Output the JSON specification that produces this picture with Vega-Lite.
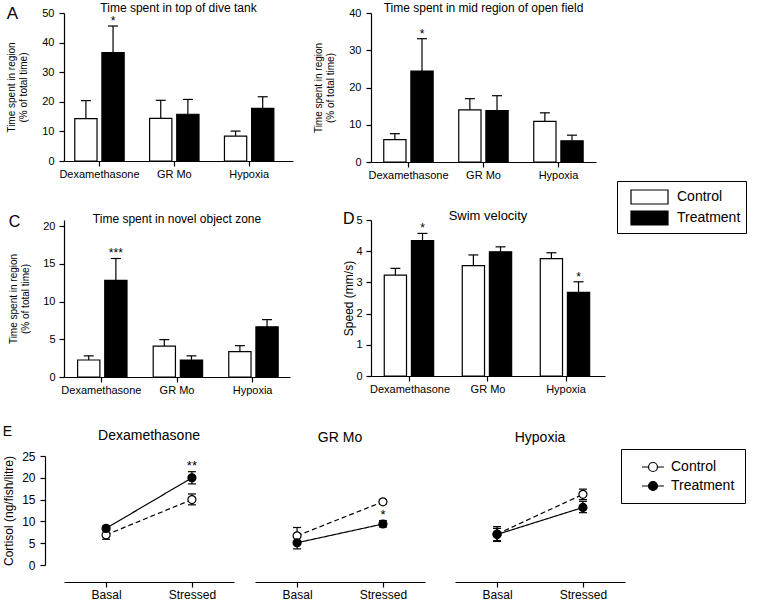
{
  "$schema": "https://vega.github.io/schema/vega-lite/v6.json",
  "padding": {"left": 2, "top": 2, "right": 0, "bottom": 0},
  "datasets": {
    "bars": [
      {"panel": "A", "cat": "Dexamethasone", "group": "Control", "value": 14.3, "hi": 20.4, "sig": ""},
      {"panel": "A", "cat": "Dexamethasone", "group": "Treatment", "value": 36.6, "hi": 45.6, "sig": "*"},
      {"panel": "A", "cat": "GR Mo", "group": "Control", "value": 14.4, "hi": 20.5, "sig": ""},
      {"panel": "A", "cat": "GR Mo", "group": "Treatment", "value": 15.8, "hi": 20.8, "sig": ""},
      {"panel": "A", "cat": "Hypoxia", "group": "Control", "value": 8.4, "hi": 10.1, "sig": ""},
      {"panel": "A", "cat": "Hypoxia", "group": "Treatment", "value": 17.8, "hi": 21.7, "sig": ""},
      {"panel": "B", "cat": "Dexamethasone", "group": "Control", "value": 6.0, "hi": 7.6, "sig": ""},
      {"panel": "B", "cat": "Dexamethasone", "group": "Treatment", "value": 24.4, "hi": 33.1, "sig": "*"},
      {"panel": "B", "cat": "GR Mo", "group": "Control", "value": 14.0, "hi": 17.0, "sig": ""},
      {"panel": "B", "cat": "GR Mo", "group": "Treatment", "value": 13.8, "hi": 17.8, "sig": ""},
      {"panel": "B", "cat": "Hypoxia", "group": "Control", "value": 10.9, "hi": 13.2, "sig": ""},
      {"panel": "B", "cat": "Hypoxia", "group": "Treatment", "value": 5.7, "hi": 7.2, "sig": ""},
      {"panel": "C", "cat": "Dexamethasone", "group": "Control", "value": 2.25, "hi": 2.8, "sig": ""},
      {"panel": "C", "cat": "Dexamethasone", "group": "Treatment", "value": 12.8, "hi": 15.7, "sig": "***"},
      {"panel": "C", "cat": "GR Mo", "group": "Control", "value": 4.1, "hi": 4.95, "sig": ""},
      {"panel": "C", "cat": "GR Mo", "group": "Treatment", "value": 2.25, "hi": 2.8, "sig": ""},
      {"panel": "C", "cat": "Hypoxia", "group": "Control", "value": 3.35, "hi": 4.15, "sig": ""},
      {"panel": "C", "cat": "Hypoxia", "group": "Treatment", "value": 6.65, "hi": 7.6, "sig": ""},
      {"panel": "D", "cat": "Dexamethasone", "group": "Control", "value": 3.23, "hi": 3.45, "sig": ""},
      {"panel": "D", "cat": "Dexamethasone", "group": "Treatment", "value": 4.34, "hi": 4.57, "sig": "*"},
      {"panel": "D", "cat": "GR Mo", "group": "Control", "value": 3.54, "hi": 3.88, "sig": ""},
      {"panel": "D", "cat": "GR Mo", "group": "Treatment", "value": 3.98, "hi": 4.14, "sig": ""},
      {"panel": "D", "cat": "Hypoxia", "group": "Control", "value": 3.76, "hi": 3.95, "sig": ""},
      {"panel": "D", "cat": "Hypoxia", "group": "Treatment", "value": 2.68, "hi": 3.02, "sig": "*"}
    ],
    "cortisol": [
      {"panel": "Dexamethasone", "cond": "Basal", "group": "Control", "mean": 6.9, "lo": 5.9, "hi": 7.9, "sig": ""},
      {"panel": "Dexamethasone", "cond": "Basal", "group": "Treatment", "mean": 8.4, "lo": 7.9, "hi": 8.9, "sig": ""},
      {"panel": "Dexamethasone", "cond": "Stressed", "group": "Control", "mean": 15.0, "lo": 13.8, "hi": 16.3, "sig": ""},
      {"panel": "Dexamethasone", "cond": "Stressed", "group": "Treatment", "mean": 20.0, "lo": 18.6, "hi": 21.4, "sig": "**"},
      {"panel": "GR Mo", "cond": "Basal", "group": "Control", "mean": 6.7, "lo": 4.9, "hi": 8.6, "sig": ""},
      {"panel": "GR Mo", "cond": "Basal", "group": "Treatment", "mean": 5.1, "lo": 3.7, "hi": 6.4, "sig": ""},
      {"panel": "GR Mo", "cond": "Stressed", "group": "Control", "mean": 14.5, "lo": 14.0, "hi": 15.0, "sig": ""},
      {"panel": "GR Mo", "cond": "Stressed", "group": "Treatment", "mean": 9.4, "lo": 8.7, "hi": 10.2, "sig": "*"},
      {"panel": "Hypoxia", "cond": "Basal", "group": "Control", "mean": 7.1, "lo": 5.4, "hi": 8.8, "sig": ""},
      {"panel": "Hypoxia", "cond": "Basal", "group": "Treatment", "mean": 7.0, "lo": 5.6, "hi": 8.4, "sig": ""},
      {"panel": "Hypoxia", "cond": "Stressed", "group": "Control", "mean": 16.2, "lo": 15.0, "hi": 17.4, "sig": ""},
      {"panel": "Hypoxia", "cond": "Stressed", "group": "Treatment", "mean": 13.2, "lo": 12.0, "hi": 14.6, "sig": ""}
    ]
  },
  "spacing": 29,
  "resolve": {"scale": {"fill": "independent"}, "legend": {"fill": "independent"}},
  "vconcat": [
    {
      "spacing": 0,
      "resolve": {"scale": {"fill": "independent"}, "legend": {"fill": "independent"}},
      "vconcat": [
        {
          "spacing": 20,
          "resolve": {"scale": {"fill": "independent"}, "legend": {"fill": "independent"}},
          "hconcat": [
            {
              "title": {"text": "A", "anchor": "start", "fontSize": 17, "offset": -20.8},
              "resolve": {"scale": {"fill": "independent"}, "legend": {"fill": "independent"}},
              "hconcat": [
                {
                  "width": 229, "height": 148,
                  "title": {"text": "Time spent in top of dive tank", "offset": -8},
                  "data": {"name": "bars"},
                  "transform": [{"filter": "datum.panel === 'A'"}],
                  "encoding": {
                    "x": {"field": "cat", "type": "nominal", "scale": {"paddingInner": 0.34, "paddingOuter": 0.2, "align": 0.36}, "axis": {"title": null, "labelAngle": 0}},
                    "xOffset": {"field": "group", "type": "nominal", "scale": {"paddingInner": 0.18, "paddingOuter": 0}},
                    "y": {"field": "value", "type": "quantitative", "scale": {"domain": [0, 50], "nice": false}, "axis": {"values": [0, 10, 20, 30, 40, 50], "tickCount": 20, "format": "d", "title": ["Time spent in region", "(% of total time)"], "titleFontSize": 10, "titlePadding": 13, "labelPadding": 5}}
                  },
                  "layer": [
                    {"mark": {"type": "bar", "stroke": "black", "strokeWidth": 1.2},
                     "encoding": {"fill": {"field": "group", "type": "nominal", "scale": {"domain": ["Control", "Treatment"], "range": ["white", "black"]}, "legend": null}}},
                    {"mark": {"type": "rule", "color": "black", "strokeWidth": 1.2}, "encoding": {"y2": {"field": "hi"}}},
                    {"mark": {"type": "tick", "color": "black", "thickness": 1.2, "size": 10, "opacity": 1}, "encoding": {"y": {"field": "hi", "type": "quantitative"}}},
                    {"mark": {"type": "text", "baseline": "alphabetic", "dy": -1, "fontSize": 12, "color": "black"}, "encoding": {"y": {"field": "hi", "type": "quantitative"}, "text": {"field": "sig"}}}
                  ]
                }
              ]
            },
            {
              "width": 225, "height": 149,
              "title": {"text": "Time spent in mid region of open field", "offset": -8},
              "data": {"name": "bars"},
              "transform": [{"filter": "datum.panel === 'B'"}],
              "encoding": {
                "x": {"field": "cat", "type": "nominal", "scale": {"paddingInner": 0.34, "paddingOuter": 0.17}, "axis": {"title": null, "labelAngle": 0}},
                "xOffset": {"field": "group", "type": "nominal", "scale": {"paddingInner": 0.18, "paddingOuter": 0}},
                "y": {"field": "value", "type": "quantitative", "scale": {"domain": [0, 40], "nice": false}, "axis": {"values": [0, 10, 20, 30, 40], "tickCount": 20, "format": "d", "title": ["Time spent in region", "(% of total time)"], "titleFontSize": 10, "titlePadding": 13, "labelPadding": 5}}
              },
              "layer": [
                {"mark": {"type": "bar", "stroke": "black", "strokeWidth": 1.2},
                 "encoding": {"fill": {"field": "group", "type": "nominal", "scale": {"domain": ["Control", "Treatment"], "range": ["white", "black"]}, "legend": null}}},
                {"mark": {"type": "rule", "color": "black", "strokeWidth": 1.2}, "encoding": {"y2": {"field": "hi"}}},
                {"mark": {"type": "tick", "color": "black", "thickness": 1.2, "size": 10, "opacity": 1}, "encoding": {"y": {"field": "hi", "type": "quantitative"}}},
                {"mark": {"type": "text", "baseline": "alphabetic", "dy": -1, "fontSize": 12, "color": "black"}, "encoding": {"y": {"field": "hi", "type": "quantitative"}, "text": {"field": "sig"}}}
              ]
            }
          ]
        },
        {
          "spacing": 52,
          "hconcat": [
            {
              "title": {"text": "C", "anchor": "start", "fontSize": 16, "offset": -17},
              "hconcat": [
                {
                  "width": 226, "height": 157,
                  "title": {"text": "Time spent in novel object zone", "offset": -6},
                  "data": {"name": "bars"},
                  "transform": [{"filter": "datum.panel === 'C'"}],
                  "encoding": {
                    "x": {"field": "cat", "type": "nominal", "scale": {"paddingInner": 0.37, "paddingOuter": 0.18}, "axis": {"title": null, "labelAngle": 0}},
                    "xOffset": {"field": "group", "type": "nominal", "scale": {"paddingInner": 0.32, "paddingOuter": 0}},
                    "y": {"field": "value", "type": "quantitative", "scale": {"domain": [0, 20.8], "nice": false}, "axis": {"values": [0, 5, 10, 15, 20], "tickCount": 20, "format": "d", "title": ["Time spent in region", "(% of total time)"], "titleFontSize": 10, "titlePadding": 12, "labelPadding": 4}}
                  },
                  "layer": [
                    {"mark": {"type": "bar", "stroke": "black", "strokeWidth": 1.2},
                     "encoding": {"fill": {"field": "group", "type": "nominal", "scale": {"domain": ["Control", "Treatment"], "range": ["white", "black"]}}}},
                    {"mark": {"type": "rule", "color": "black", "strokeWidth": 1.2}, "encoding": {"y2": {"field": "hi"}}},
                    {"mark": {"type": "tick", "color": "black", "thickness": 1.2, "size": 10, "opacity": 1}, "encoding": {"y": {"field": "hi", "type": "quantitative"}}},
                    {"mark": {"type": "text", "baseline": "alphabetic", "dy": -1, "fontSize": 12, "color": "black"}, "encoding": {"y": {"field": "hi", "type": "quantitative"}, "text": {"field": "sig"}}}
                  ]
                }
              ]
            },
            {
              "title": {"text": "D", "anchor": "start", "fontSize": 16, "offset": -17},
              "hconcat": [
                {
                  "width": 234, "height": 156,
                  "title": {"text": "Swim velocity", "fontSize": 13, "offset": -9},
                  "data": {"name": "bars"},
                  "transform": [{"filter": "datum.panel === 'D'"}],
                  "encoding": {
                    "x": {"field": "cat", "type": "nominal", "scale": {"paddingInner": 0.34, "paddingOuter": 0.17}, "axis": {"title": null, "labelAngle": 0}},
                    "xOffset": {"field": "group", "type": "nominal", "scale": {"paddingInner": 0.18, "paddingOuter": 0}},
                    "y": {"field": "value", "type": "quantitative", "scale": {"domain": [0, 5], "nice": false}, "axis": {"values": [0, 1, 2, 3, 4, 5], "tickCount": 20, "format": "d", "title": "Speed (mm/s)", "titleFontSize": 12, "titlePadding": 0, "labelPadding": 4}}
                  },
                  "layer": [
                    {"mark": {"type": "bar", "stroke": "black", "strokeWidth": 1.2},
                     "encoding": {"fill": {"field": "group", "type": "nominal", "scale": {"domain": ["Control", "Treatment"], "range": ["white", "black"]},
                       "legend": {"orient": "none", "legendX": 553, "legendY": -39, "title": null, "symbolType": "M-0.2,-0.7H3.5V0.7H-0.2Z", "symbolSize": 400, "symbolStrokeColor": "black", "symbolStrokeWidth": 1.2, "labelFontSize": 14, "labelColor": "black", "labelOffset": 33, "padding": 5, "rowPadding": 0, "strokeColor": "black", "labelExpr": "datum.label + '\u2003'"}}}},
                    {"mark": {"type": "rule", "color": "black", "strokeWidth": 1.2}, "encoding": {"y2": {"field": "hi"}}},
                    {"mark": {"type": "tick", "color": "black", "thickness": 1.2, "size": 10, "opacity": 1}, "encoding": {"y": {"field": "hi", "type": "quantitative"}}},
                    {"mark": {"type": "text", "baseline": "alphabetic", "dy": -1, "fontSize": 12, "color": "black"}, "encoding": {"y": {"field": "hi", "type": "quantitative"}, "text": {"field": "sig"}}}
                  ]
                }
              ]
            }
          ]
        }
      ]
    },
    {
      "title": {"text": "E", "anchor": "start", "fontSize": 14, "offset": -9.5},
      "spacing": 21,
      "resolve": {"scale": {"fill": "independent"}, "legend": {"fill": "independent"}},
      "hconcat": [
        {
          "width": 170, "height": 109,
          "title": {"text": "Dexamethasone", "fontSize": 14, "offset": 7},
          "data": {"name": "cortisol"},
          "transform": [{"filter": "datum.panel === 'Dexamethasone'"}],
          "encoding": {
            "x": {"field": "cond", "type": "nominal", "scale": {"type": "point", "padding": 0.49}, "axis": {"title": null, "labelAngle": 0, "offset": 17, "labelFontSize": 12}},
            "y": {"field": "mean", "type": "quantitative", "scale": {"domain": [0, 25], "nice": false}, "axis": {"values": [0, 5, 10, 15, 20, 25], "tickCount": 20, "format": "d", "offset": 19, "labelFontSize": 12, "labelPadding": 5, "title": "Cortisol (ng/fish/litre)", "titleFontSize": 12, "titlePadding": 6}}
          },
          "layer": [
            {"mark": {"type": "line", "color": "black", "strokeWidth": 1.2},
             "encoding": {"detail": {"field": "group"}, "strokeDash": {"condition": {"test": "datum.group === 'Control'", "value": [5, 3]}, "value": [1, 0]}}},
            {"mark": {"type": "rule", "color": "black", "strokeWidth": 1.2}, "encoding": {"y": {"field": "lo", "type": "quantitative"}, "y2": {"field": "hi"}}},
            {"mark": {"type": "tick", "color": "black", "thickness": 1.2, "size": 8, "opacity": 1}, "encoding": {"y": {"field": "lo", "type": "quantitative"}}},
            {"mark": {"type": "tick", "color": "black", "thickness": 1.2, "size": 8, "opacity": 1}, "encoding": {"y": {"field": "hi", "type": "quantitative"}}},
            {"mark": {"type": "point", "filled": true, "size": 64, "stroke": "black", "strokeWidth": 1.2, "opacity": 1},
             "encoding": {"fill": {"field": "group", "type": "nominal", "scale": {"domain": ["Control", "Treatment"], "range": ["white", "black"]}, "legend": null}}},
            {"mark": {"type": "text", "baseline": "alphabetic", "dy": -2, "fontSize": 13, "color": "black"}, "encoding": {"y": {"field": "hi", "type": "quantitative"}, "text": {"field": "sig"}}}
          ]
        },
        {
          "spacing": 30,
          "resolve": {"scale": {"fill": "independent"}, "legend": {"fill": "independent"}},
          "hconcat": [
            {
              "width": 170, "height": 109,
              "title": {"text": "GR Mo", "fontSize": 14, "offset": 11},
              "data": {"name": "cortisol"},
              "transform": [{"filter": "datum.panel === 'GR Mo'"}],
              "encoding": {
                "x": {"field": "cond", "type": "nominal", "scale": {"type": "point", "padding": 0.49}, "axis": {"title": null, "labelAngle": 0, "offset": 17, "labelFontSize": 12}},
                "y": {"field": "mean", "type": "quantitative", "scale": {"domain": [0, 25], "nice": false}, "axis": null}
              },
              "layer": [
                {"mark": {"type": "line", "color": "black", "strokeWidth": 1.2},
                 "encoding": {"detail": {"field": "group"}, "strokeDash": {"condition": {"test": "datum.group === 'Control'", "value": [5, 3]}, "value": [1, 0]}}},
                {"mark": {"type": "rule", "color": "black", "strokeWidth": 1.2}, "encoding": {"y": {"field": "lo", "type": "quantitative", "axis": null}, "y2": {"field": "hi"}}},
                {"mark": {"type": "tick", "color": "black", "thickness": 1.2, "size": 8, "opacity": 1}, "encoding": {"y": {"field": "lo", "type": "quantitative", "axis": null}}},
                {"mark": {"type": "tick", "color": "black", "thickness": 1.2, "size": 8, "opacity": 1}, "encoding": {"y": {"field": "hi", "type": "quantitative", "axis": null}}},
                {"mark": {"type": "point", "filled": true, "size": 64, "stroke": "black", "strokeWidth": 1.2, "opacity": 1},
                 "encoding": {"fill": {"field": "group", "type": "nominal", "scale": {"domain": ["Control", "Treatment"], "range": ["white", "black"]}, "legend": null}}},
                {"mark": {"type": "text", "baseline": "alphabetic", "dy": -2, "fontSize": 13, "color": "black"}, "encoding": {"y": {"field": "hi", "type": "quantitative", "axis": null}, "text": {"field": "sig"}}}
              ]
            },
            {
              "width": 170, "height": 109,
              "title": {"text": "Hypoxia", "fontSize": 14, "offset": 4},
              "data": {"name": "cortisol"},
              "transform": [{"filter": "datum.panel === 'Hypoxia'"}],
              "encoding": {
                "x": {"field": "cond", "type": "nominal", "scale": {"type": "point", "padding": 0.49}, "axis": {"title": null, "labelAngle": 0, "offset": 17, "labelFontSize": 12}},
                "y": {"field": "mean", "type": "quantitative", "scale": {"domain": [0, 25], "nice": false}, "axis": null}
              },
              "layer": [
                {"mark": {"type": "line", "color": "black", "strokeWidth": 1.2},
                 "encoding": {"detail": {"field": "group"}, "strokeDash": {"condition": {"test": "datum.group === 'Control'", "value": [5, 3]}, "value": [1, 0]}}},
                {"mark": {"type": "rule", "color": "black", "strokeWidth": 1.2}, "encoding": {"y": {"field": "lo", "type": "quantitative", "axis": null}, "y2": {"field": "hi"}}},
                {"mark": {"type": "tick", "color": "black", "thickness": 1.2, "size": 8, "opacity": 1}, "encoding": {"y": {"field": "lo", "type": "quantitative", "axis": null}}},
                {"mark": {"type": "tick", "color": "black", "thickness": 1.2, "size": 8, "opacity": 1}, "encoding": {"y": {"field": "hi", "type": "quantitative", "axis": null}}},
                {"mark": {"type": "point", "filled": true, "size": 64, "stroke": "black", "strokeWidth": 1.2, "opacity": 1},
                 "encoding": {"fill": {"field": "group", "type": "nominal", "scale": {"domain": ["Control", "Treatment"], "range": ["white", "black"]},
                   "legend": {"orient": "none", "legendX": 166, "legendY": -7, "title": null, "symbolType": "M0.43,0H1.36M2.64,0H3.57M2.64,0A0.64,0.64,0,1,1,1.36,0A0.64,0.64,0,1,1,2.64,0", "symbolSize": 196, "symbolStrokeColor": "black", "symbolStrokeWidth": 1.2, "labelFontSize": 14, "labelColor": "black", "labelOffset": 24, "padding": 10, "rowPadding": 4, "strokeColor": "black", "labelExpr": "datum.label + '\u2003'"}}}},
                {"mark": {"type": "text", "baseline": "alphabetic", "dy": -2, "fontSize": 13, "color": "black"}, "encoding": {"y": {"field": "hi", "type": "quantitative", "axis": null}, "text": {"field": "sig"}}}
              ]
            }
          ]
        }
      ]
    }
  ],
  "config": {
    "font": "Liberation Sans",
    "view": {"stroke": null},
    "axis": {"domainColor": "black", "tickColor": "black", "labelColor": "black", "titleColor": "black", "grid": false, "labelFontSize": 11, "tickSize": 5, "domainWidth": 1.2, "tickWidth": 1.2, "labelPadding": 2, "titleFontWeight": "normal", "labelOverlap": false, "labelFlush": false, "labelBound": false},
    "title": {"fontWeight": "normal", "fontSize": 12, "color": "black"},
    "legend": {"labelColor": "black", "labelFont": "Liberation Sans"}
  }
}
